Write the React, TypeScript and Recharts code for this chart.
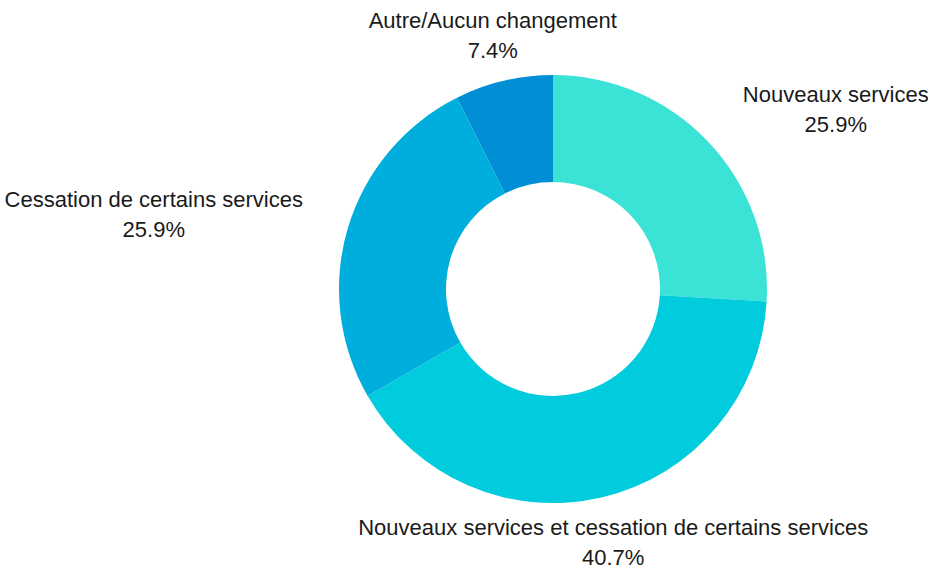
import { PieChart, Pie, Cell } from 'recharts';

const categories = [
  'Nouveaux services',
  'Nouveaux services et cessation de certains services',
  'Cessation de certains services',
  'Autre/Aucun changement',
];
const shares = [25.9, 40.7, 25.9, 7.4];
const colors = ['#3AE3D6', '#00CCDD', '#00AEDD', '#008FD5'];

const data = categories.map((name, i) => ({ name, value: shares[i] }));

const RAD = Math.PI / 180;
const FONT = "22px 'Liberation Sans', Arial, sans-serif";

let ctx: CanvasRenderingContext2D | null = null;
function measure(s: string) {
  if (!ctx) ctx = document.createElement('canvas').getContext('2d');
  if (!ctx) return s.length * 10;
  ctx.font = FONT;
  return ctx.measureText(s).width;
}

function renderLabel(props: any) {
  const { cx, cy, midAngle, outerRadius, name, value } = props;
  const r = outerRadius + 47;
  const cos = Math.cos(-midAngle * RAD);
  let x = cx + r * cos;
  const y = cy + r * Math.sin(-midAngle * RAD);
  const w = measure(name);
  if (Math.abs(cos) >= 0.35) x += cos > 0 ? w / 2 : -w / 2;
  return (
    <text
      x={x}
      y={y}
      textAnchor="middle"
      fill="#1a1a1a"
      fontSize={22}
      fontFamily="'Liberation Sans', Arial, sans-serif"
    >
      <tspan x={x} y={y - 15} dominantBaseline="central">{name}</tspan>
      <tspan x={x} y={y + 15} dominantBaseline="central">{value.toFixed(1)}%</tspan>
    </text>
  );
}

export default function App() {
  return (
    <div style={{ position: 'absolute', left: 0, top: 0, background: '#fff' }}>
      <PieChart width={928} height={567} margin={{ top: 0, right: 0, bottom: 0, left: 0 }}>
        <Pie
          data={data}
          dataKey="value"
          nameKey="name"
          cx={553}
          cy={289}
          innerRadius={107}
          outerRadius={214}
          startAngle={90}
          endAngle={-270}
          stroke="none"
          label={renderLabel}
          labelLine={false}
          isAnimationActive={false}
        >
          {data.map((d, i) => (
            <Cell key={d.name} fill={colors[i]} />
          ))}
        </Pie>
      </PieChart>
    </div>
  );
}
